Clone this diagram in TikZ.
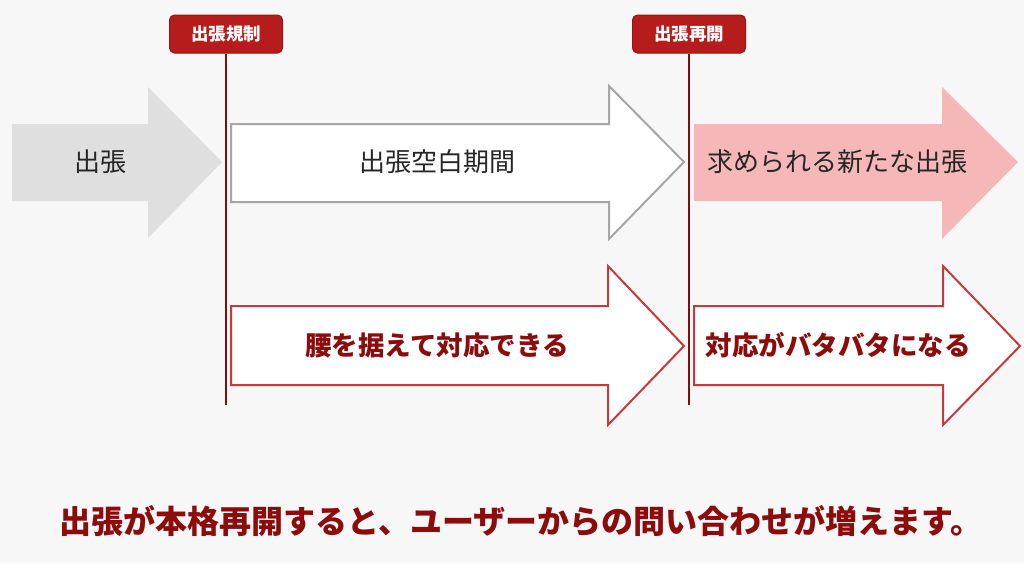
\documentclass[tikz,border=0pt]{standalone}
\usepackage{fontspec}
\newfontfamily\cjk{Noto Sans CJK JP}
\definecolor{bg}{RGB}{248,247,248}
\definecolor{tagred}{RGB}{183,28,28}
\definecolor{tagborder}{RGB}{150,20,20}
\definecolor{vline}{RGB}{125,15,20}
\definecolor{darkred}{RGB}{140,12,12}
\definecolor{grayfill}{RGB}{224,223,224}
\definecolor{grayline}{RGB}{166,166,166}
\definecolor{redline}{RGB}{196,58,62}
\definecolor{pink}{RGB}{246,183,184}
\tikzset{
  tag/.style={fill=tagred, draw=tagborder, line width=1pt, rounded corners=5pt,
    minimum width=113pt, minimum height=38pt, inner sep=0pt,
    text=white, font=\cjk\bfseries\fontsize{17.5}{17.5}\selectfont},
  marker/.style={draw=vline, line width=1.6pt},
  arrowtext/.style={text=black!85, font=\cjk\fontsize{26}{26}\selectfont},
  boldtext/.style={text=darkred, font=\cjk\bfseries\fontsize{26.5}{26.5}\selectfont},
  grayarrow/.style={draw=grayline, line width=2pt, fill=white, line join=miter},
  redarrow/.style={draw=redline, line width=2pt, fill=white, line join=miter},
}
\begin{document}
\begin{tikzpicture}[x=1pt,y=-1pt]
\fill[bg] (0,0) rectangle (1024,563);
\useasboundingbox (0,0) rectangle (1024,563);
% gray filled arrow
\fill[grayfill] (12,124) -- (148,124) -- (148,87) -- (222,162) -- (148,238) -- (148,201) -- (12,201) -- cycle;
\node[arrowtext] (a1) at (100,162) {出張};
% gray outline arrow
\draw[grayarrow] (231,124) -- (609,124) -- (609,86) -- (684,162) -- (609,239) -- (609,202) -- (231,202) -- cycle;
\node[arrowtext] (a2) at (437,162) {出張空白期間};
% pink arrow
\fill[pink] (694,124) -- (942,124) -- (942,87) -- (1018,162) -- (942,239) -- (942,201) -- (694,201) -- cycle;
\node[arrowtext] (a3) at (837,162) {求められる新たな出張};
% red outline arrows
\draw[redarrow] (231,306) -- (608,306) -- (608,266) -- (684,346) -- (608,425) -- (608,385) -- (231,385) -- cycle;
\node[boldtext] (b1) at (437,345) {腰を据えて対応できる};
\draw[redarrow] (694,306) -- (943,306) -- (943,266) -- (1020,346) -- (943,425) -- (943,385) -- (694,385) -- cycle;
\node[boldtext] (b2) at (838,345) {対応がバタバタになる};
% tags and markers
\node[tag] (t1) at (226,34) {出張規制};
\node[tag] (t2) at (689,34) {出張再開};
\coordinate (e1) at (226,405);
\coordinate (e2) at (689,405);
\draw[marker] (t1.south) -- (e1);
\draw[marker] (t2.south) -- (e2);
% bottom message
\node[text=darkred, font=\cjk\bfseries\fontsize{32}{32}\selectfont] (msg) at (521,521) {出張が本格再開すると、ユーザーからの問い合わせが増えます。};
\end{tikzpicture}
\end{document}
